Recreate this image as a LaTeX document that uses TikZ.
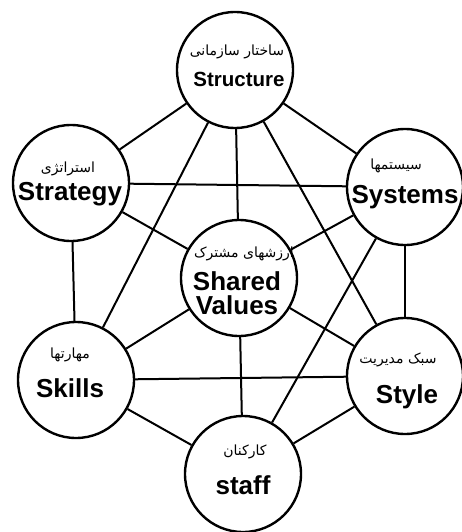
\documentclass[tikz,border=0pt]{standalone}
\usepackage{fontspec}
\setmainfont{Liberation Sans}
\newfontfamily\fa[Script=Arabic]{DejaVu Sans}
\TeXXeTstate=1
\begin{document}
\begin{tikzpicture}[x=1pt,y=-1pt,
  ring/.style={circle, draw, line width=2.4pt, fill=white, minimum size=116pt, inner sep=0pt},
  link/.style={line width=2pt},
  en/.style={font=\bfseries\fontsize{26}{23}\selectfont, inner sep=0pt, anchor=base},
  small/.style={font=\bfseries\fontsize{20.5}{20}\selectfont},
  fa/.style={font=\fa\fontsize{14}{16}\selectfont, inner sep=0pt}]
\useasboundingbox (0,0) rectangle (461,532);

% the seven elements
\node[ring] (structure) at (235,70)  {};
\node[ring] (strategy)  at (71,183)  {};
\node[ring] (systems)   at (405,187) {};
\node[ring] (shared)    at (239,278) {};
\node[ring] (skills)    at (76,380)  {};
\node[ring] (style)     at (405,376) {};
\node[ring] (staff)     at (243,474) {};

% connections
\draw[link] (structure) -- (strategy);
\draw[link] (structure) -- (systems);
\draw[link] (structure) -- (shared);
\draw[link] (structure) -- (skills);
\draw[link] (structure) -- (style);
\draw[link] (strategy) -- (systems);
\draw[link] (strategy) -- (shared);
\draw[link] (strategy) -- (skills);
\draw[link] (systems) -- (shared);
\draw[link] (systems) -- (style);
\draw[link] (systems) -- (staff);
\draw[link] (shared) -- (skills);
\draw[link] (shared) -- (style);
\draw[link] (shared) -- (staff);
\draw[link] (skills) -- (style);
\draw[link] (skills) -- (staff);
\draw[link] (style) -- (staff);

% labels
\node[fa] (structure-fa) at (237,52) {\beginR ساختار سازمانی\endR};
\node[en,small] (structure-en) at (239,87) {Structure};

\node[fa] (strategy-fa) at (68,169) {\beginR استراتژی\endR};
\node[en] (strategy-en) at (70,200) {Strategy};

\node[fa] (systems-fa) at (396,166) {\beginR سیستمها\endR};
\node[en] (systems-en) at (405,203) {Systems};

\node[fa] (shared-fa) at (244,254) {\beginR ارزشهای مشترک\endR};
\node[en] (shared-en) at (237,290) {Shared};
\node[en] (values-en) at (237,314) {Values};

\node[fa] (skills-fa) at (70,355) {\beginR مهارتها\endR};
\node[en] (skills-en) at (70,397) {Skills};

\node[fa] (style-fa) at (398,360) {\beginR سبک مدیریت\endR};
\node[en] (style-en) at (407,403) {Style};

\node[fa] (staff-fa) at (245,452) {\beginR کارکنان\endR};
\node[en] (staff-en) at (243,494) {staff};
\end{tikzpicture}
\end{document}
